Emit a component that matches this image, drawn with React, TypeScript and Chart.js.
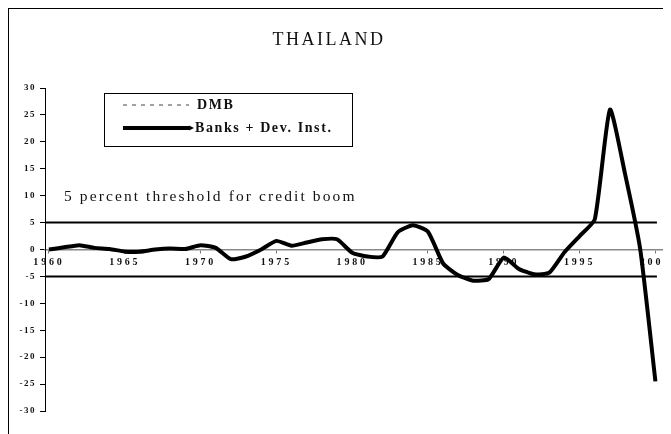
import React, { useEffect, useRef } from "react";
import { Chart, registerables } from "chart.js";

Chart.register(...registerables);

const TITLE = "THAILAND";
const YEARS = [
  1960, 1961, 1962, 1963, 1964, 1965, 1966, 1967, 1968, 1969,
  1970, 1971, 1972, 1973, 1974, 1975, 1976, 1977, 1978, 1979,
  1980, 1981, 1982, 1983, 1984, 1985, 1986, 1987, 1988, 1989,
  1990, 1991, 1992, 1993, 1994, 1995, 1996, 1997, 1998, 1999, 2000,
];
const BANKS_DEV = [
  0, 0.4, 0.8, 0.3, 0.1, -0.4, -0.4, 0, 0.2, 0.1,
  0.8, 0.3, -1.8, -1.3, 0, 1.6, 0.7, 1.3, 1.9, 1.9,
  -0.6, -1.3, -1.3, 3.2, 4.5, 3.3, -2.6, -4.8, -5.8, -5.5,
  -1.5, -3.6, -4.6, -4.3, -0.5, 2.5, 5.6, 26, 14, 0, -24.5,
];
const DMB: number[] = [];
const X_TICKS = [1960, 1965, 1970, 1975, 1980, 1985, 1990, 1995, 2000];
const Y_TICKS = [30, 25, 20, 15, 10, 5, 0, -5, -10, -15, -20, -25, -30];
const THRESHOLD_UP = 5;
const THRESHOLD_DOWN = -5;
const THRESHOLD_SPAN = [1959.75, 2000.1];
const X_MIN = 1959.74;
const X_MAX = 2000.5;
const ANNOTATION = "5 percent threshold for credit boom";
const SERIES_LABELS = ["DMB", "Banks + Dev. Inst."];

const SERIF = '"Liberation Serif", "DejaVu Serif", serif';

function spaced(spacing: string, width?: number) {
  return (scale: any) => {
    if (width !== undefined) scale.width = width;
    if (scale._spacedPatched) return;
    const orig = scale.drawLabels.bind(scale);
    scale.drawLabels = (ca: any) => {
      const c = scale.ctx;
      c.save();
      c.letterSpacing = spacing;
      orig(ca);
      c.restore();
    };
    scale._spacedPatched = true;
  };
}

const overlay = {
  id: "overlay",
  afterDraw(chart: any) {
    const ctx = chart.ctx as CanvasRenderingContext2D;
    const ca = chart.chartArea;
    const ys = chart.scales.y;
    ctx.save();
    ctx.fillStyle = "#111";
    // title
    ctx.font = `18px ${SERIF}`;
    (ctx as any).letterSpacing = "2.5px";
    ctx.textAlign = "center";
    ctx.textBaseline = "middle";
    ctx.fillText(TITLE, 320, 31);
    // annotation
    ctx.font = `15.5px ${SERIF}`;
    (ctx as any).letterSpacing = "2.1px";
    ctx.textAlign = "left";
    ctx.fillText(ANNOTATION, ca.left + 19, ys.getPixelForValue(THRESHOLD_UP) - 26);
    // legend
    ctx.lineWidth = 1;
    ctx.strokeStyle = "#000";
    ctx.strokeRect(95.5, 84.5, 248, 53);
    ctx.font = `bold 14px ${SERIF}`;
    (ctx as any).letterSpacing = "1.6px";
    // DMB
    ctx.beginPath();
    ctx.setLineDash([4, 5]);
    ctx.strokeStyle = "#444";
    ctx.lineWidth = 1;
    ctx.moveTo(114, 96);
    ctx.lineTo(180, 96);
    ctx.stroke();
    ctx.setLineDash([]);
    ctx.fillText(SERIES_LABELS[0], 188, 96);
    // Banks
    ctx.beginPath();
    ctx.strokeStyle = "#000";
    ctx.lineWidth = 4;
    ctx.moveTo(114, 119);
    ctx.lineTo(181, 119);
    ctx.stroke();
    ctx.beginPath();
    ctx.moveTo(180, 116.5);
    ctx.lineTo(185, 119);
    ctx.lineTo(180, 121.5);
    ctx.closePath();
    ctx.fillStyle = "#000";
    ctx.fill();
    ctx.fillStyle = "#111";
    ctx.fillText(SERIES_LABELS[1], 186, 119);
    ctx.restore();
  },
};

export default function App() {
  const ref = useRef<HTMLCanvasElement | null>(null);
  useEffect(() => {
    if (!ref.current) return;
    const chart = new Chart(ref.current, {
      type: "line",
      data: {
        datasets: [
          {
            label: "threshold+",
            data: THRESHOLD_SPAN.map((x) => ({ x, y: THRESHOLD_UP })),
            borderColor: "#000",
            borderWidth: 2,
            pointRadius: 0,
            tension: 0,
          },
          {
            label: "threshold-",
            data: THRESHOLD_SPAN.map((x) => ({ x, y: THRESHOLD_DOWN })),
            borderColor: "#000",
            borderWidth: 2,
            pointRadius: 0,
            tension: 0,
          },
          {
            label: SERIES_LABELS[0],
            data: DMB.map((v, i) => ({ x: YEARS[i], y: v })),
            borderColor: "#555",
            borderDash: [4, 5],
            borderWidth: 1,
            pointRadius: 0,
          },
          {
            label: SERIES_LABELS[1],
            data: YEARS.map((x, i) => ({ x, y: BANKS_DEV[i] })),
            borderColor: "#000",
            borderWidth: 4,
            pointRadius: 0,
            tension: 0.18,
          },
        ],
      },
      options: {
        animation: false,
        responsive: false,
        layout: { padding: { top: 79, left: 0, right: 8, bottom: 23 } },
        plugins: {
          legend: { display: false },
          title: { display: false },
          tooltip: { enabled: false },
        },
        scales: {
          x: {
            type: "linear",
            position: { y: 0 } as any,
            min: X_MIN,
            max: X_MAX,
            afterBuildTicks: (s: any) => {
              s.ticks = X_TICKS.map((v) => ({ value: v }));
            },
            afterFit: spaced("2.8px") as any,
            grid: {
              display: true,
              drawOnChartArea: false,
              drawTicks: true,
              tickLength: 3,
              color: "#777",
            },
            border: { display: true, color: "#888", width: 1.5, dash: [10, 3, 2, 3] },
            ticks: {
              autoSkip: false,
              maxRotation: 0,
              padding: 4,
              color: "#111",
              font: { family: SERIF, size: 10, weight: "bold" },
              callback: (v: any) => String(v),
            },
          },
          y: {
            type: "linear",
            position: "left",
            min: -30,
            max: 30,
            afterBuildTicks: (s: any) => {
              s.ticks = Y_TICKS.map((v) => ({ value: v }));
            },
            afterFit: spaced("1.5px", 36) as any,
            grid: {
              display: true,
              drawOnChartArea: false,
              drawTicks: true,
              tickLength: 5,
              color: "#000",
            },
            border: { display: true, color: "#000", width: 1 },
            ticks: {
              padding: 4,
              color: "#111",
              font: { family: SERIF, size: 9, weight: "bold" },
            },
          },
        },
      },
      plugins: [overlay],
    });
    return () => chart.destroy();
  }, []);
  return (
    <div
      style={{
        width: 663,
        height: 426,
        boxSizing: "border-box",
        borderTop: "1px solid #000",
        borderLeft: "1px solid #000",
        background: "#fff",
      }}
    >
      <canvas ref={ref} width={662} height={425} style={{ display: "block" }} />
    </div>
  );
}
